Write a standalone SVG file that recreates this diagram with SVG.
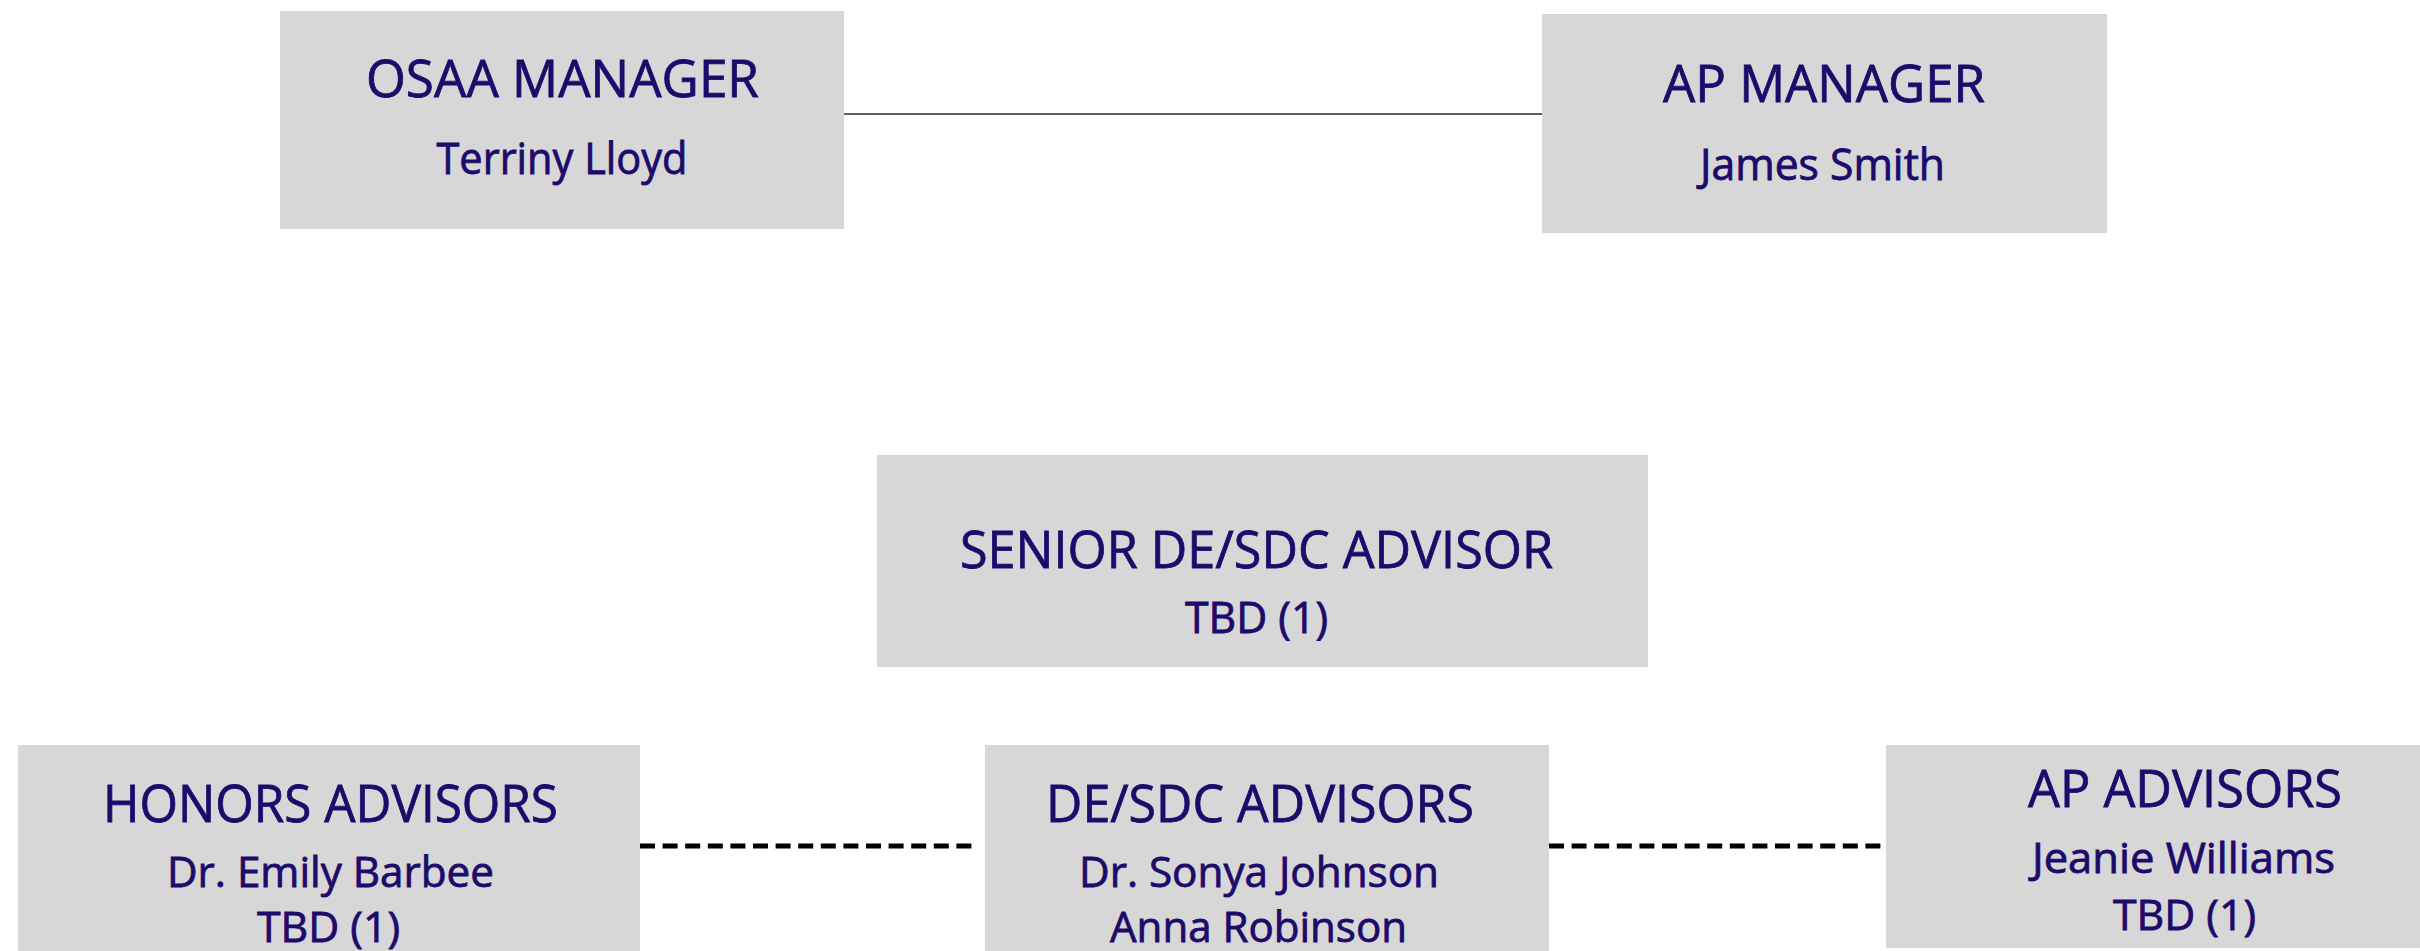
<svg xmlns="http://www.w3.org/2000/svg" width="2420" height="951" viewBox="0 0 2420 951">
<style>
.box{fill:#d7d7d7;}
.t{font-family:"Open Sans","Liberation Sans",sans-serif;fill:#1e0a6a;stroke:#1e0a6a;stroke-width:0.8;text-anchor:middle;}
.title{font-size:52px;}
.sub{font-size:43px;}
.sub2{font-size:42px;}
.solid{stroke:#2a2a2a;stroke-width:1.6;fill:none;}
.dash{stroke:#000;stroke-width:5;stroke-dasharray:15 7.6;fill:none;}
</style>
<rect width="2420" height="951" fill="#ffffff"/>
<g id="connectors">
<line class="solid" x1="838" y1="114" x2="1542" y2="114"/>
<line class="dash" x1="640" y1="846" x2="979" y2="846"/>
<line class="dash" x1="1549" y1="846" x2="1882" y2="846"/>
</g>
<g id="osaa-manager">
<rect class="box" x="280" y="11" width="564" height="218"/>
<text class="t title" x="562.5" y="97" textLength="393" lengthAdjust="spacingAndGlyphs">OSAA MANAGER</text>
<text class="t sub" x="562" y="174" textLength="251" lengthAdjust="spacingAndGlyphs">Terriny Lloyd</text>
</g>
<g id="ap-manager">
<rect class="box" x="1542" y="14" width="565" height="219"/>
<text class="t title" x="1824" y="102" textLength="322" lengthAdjust="spacingAndGlyphs">AP MANAGER</text>
<text class="t sub" x="1822.5" y="180" textLength="245" lengthAdjust="spacingAndGlyphs">James Smith</text>
</g>
<g id="senior-advisor">
<rect class="box" x="877" y="455" width="771" height="212"/>
<text class="t title" x="1256.5" y="568" textLength="593" lengthAdjust="spacingAndGlyphs">SENIOR DE/SDC ADVISOR</text>
<text class="t sub" x="1256.5" y="633" textLength="143" lengthAdjust="spacingAndGlyphs">TBD (1)</text>
</g>
<g id="honors-advisors">
<rect class="box" x="18" y="745" width="622" height="220"/>
<text class="t title" x="330.5" y="822" textLength="455" lengthAdjust="spacingAndGlyphs">HONORS ADVISORS</text>
<text class="t sub2" x="330.5" y="887" textLength="327" lengthAdjust="spacingAndGlyphs">Dr. Emily Barbee</text>
<text class="t sub2" x="328.5" y="942" textLength="143" lengthAdjust="spacingAndGlyphs">TBD (1)</text>
</g>
<g id="desdc-advisors">
<rect class="box" x="985" y="745" width="564" height="220"/>
<text class="t title" x="1260" y="822" textLength="428" lengthAdjust="spacingAndGlyphs">DE/SDC ADVISORS</text>
<text class="t sub2" x="1259" y="887" textLength="360" lengthAdjust="spacingAndGlyphs">Dr. Sonya Johnson</text>
<text class="t sub2" x="1258.5" y="942" textLength="297" lengthAdjust="spacingAndGlyphs">Anna Robinson</text>
</g>
<g id="ap-advisors">
<rect class="box" x="1886" y="745" width="600" height="203"/>
<text class="t title" x="2185" y="807" textLength="314" lengthAdjust="spacingAndGlyphs">AP ADVISORS</text>
<text class="t sub2" x="2183.5" y="873" textLength="303" lengthAdjust="spacingAndGlyphs">Jeanie Williams</text>
<text class="t sub2" x="2184.5" y="930" textLength="143" lengthAdjust="spacingAndGlyphs">TBD (1)</text>
</g>
</svg>
